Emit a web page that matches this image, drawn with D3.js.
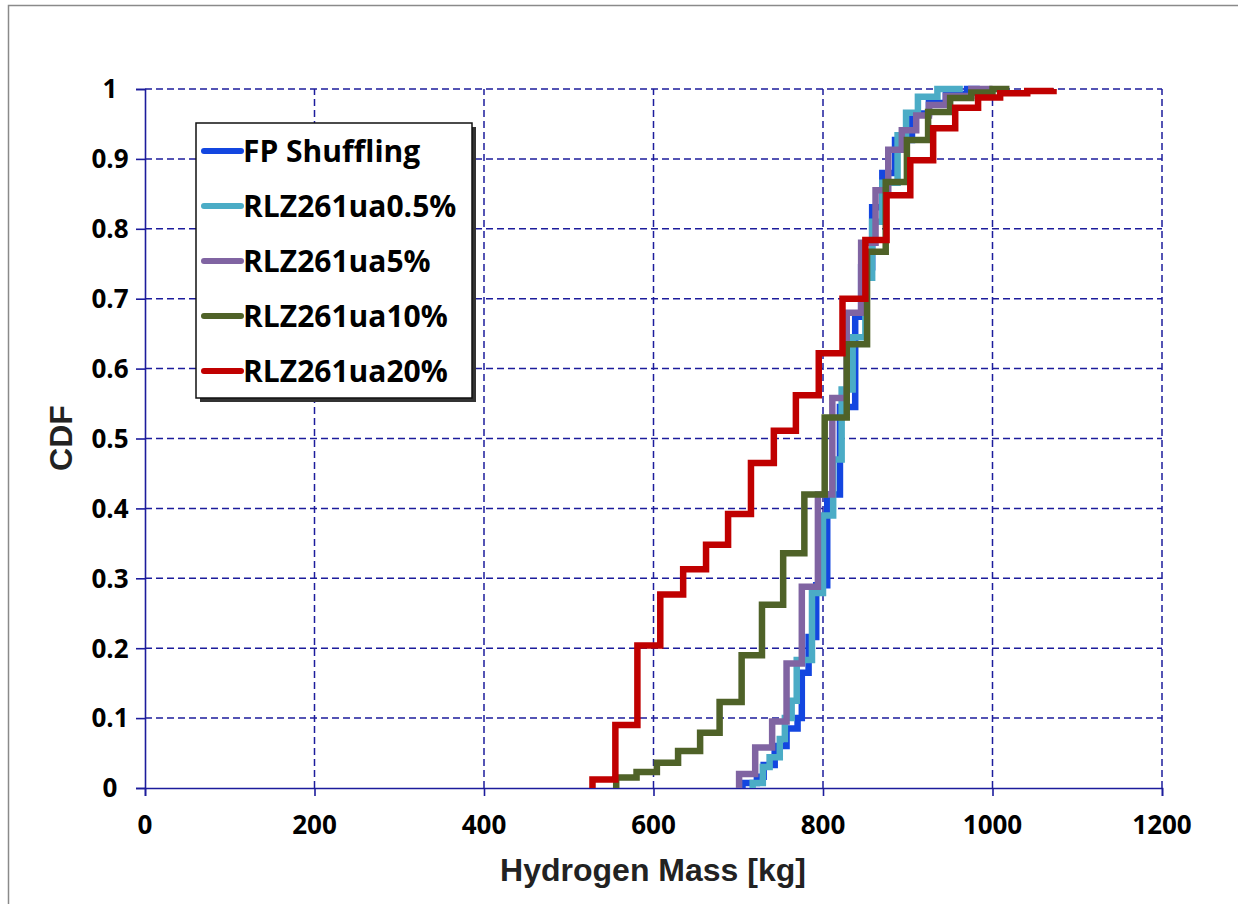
<!DOCTYPE html>
<html>
<head>
<meta charset="utf-8">
<script src="https://cdn.jsdelivr.net/npm/d3@7"></script>
<style>
  body { margin: 0; background: #fff; }
  svg { display: block; }
  .tick-label { font-family: 'Open Sans', sans-serif; font-weight: 700; font-size: 26px; fill: #000; }
  .axis-title { font-family: 'Liberation Sans', Arial, sans-serif; font-weight: 700; font-size: 32px; fill: #222; }
  .legend-text { font-family: 'Open Sans', sans-serif; font-weight: 700; font-size: 30px; fill: #000; }
</style>
</head>
<body>
<svg id="chart" width="1238" height="904"></svg>
<script>
// series names, colours
const seriesNames = ['FP Shuffling', 'RLZ261ua0.5%', 'RLZ261ua5%', 'RLZ261ua10%', 'RLZ261ua20%'];
const seriesColors = ['#1346e0', '#4bacc6', '#8064a2', '#4f6228', '#c00000'];

// step positions (hydrogen mass, kg) and CDF level after each step
const fpMass = [705, 722, 730, 743, 757, 770, 775, 783, 792, 805, 820, 838, 845, 858, 870, 885, 905, 925, 945, 970, 985];
const fpCdf  = [0.007, 0.016, 0.033, 0.06, 0.085, 0.1, 0.165, 0.216, 0.29, 0.42, 0.545, 0.674, 0.745, 0.831, 0.88, 0.927, 0.965, 0.98, 0.993, 1.0, 1.0];

const ua05Mass = [717, 729, 737, 749, 755, 763, 769, 787, 800, 812, 822, 835, 850, 858, 870, 888, 898, 912, 935, 965];
const ua05Cdf  = [0.007, 0.03, 0.044, 0.07, 0.1, 0.125, 0.183, 0.279, 0.39, 0.47, 0.57, 0.645, 0.73, 0.81, 0.866, 0.934, 0.966, 0.989, 1.0, 1.0];

const ua5Mass = [701, 720, 740, 757, 775, 794, 811, 828, 845, 862, 877, 893, 910, 925, 945, 975, 1000];
const ua5Cdf  = [0.02, 0.058, 0.095, 0.178, 0.288, 0.42, 0.558, 0.68, 0.78, 0.855, 0.913, 0.941, 0.962, 0.977, 0.99, 1.0, 1.0];

const ua10Mass = [556, 580, 604, 629, 655, 678, 704, 728, 753, 778, 802, 828, 852, 874, 899, 924, 950, 975, 1000, 1020];
const ua10Cdf  = [0.015, 0.023, 0.036, 0.053, 0.079, 0.123, 0.19, 0.262, 0.336, 0.42, 0.53, 0.635, 0.767, 0.867, 0.927, 0.967, 0.987, 0.995, 1.0, 1.0];

const ua20Mass = [528, 555, 581, 608, 635, 662, 688, 715, 742, 768, 795, 823, 850, 875, 903, 930, 956, 983, 1009, 1041, 1072];
const ua20Cdf  = [0.012, 0.09, 0.204, 0.277, 0.313, 0.348, 0.392, 0.465, 0.511, 0.562, 0.622, 0.70, 0.784, 0.848, 0.898, 0.944, 0.973, 0.988, 0.994, 0.997, 1.0];

// axis ticks
const xTicks = [0, 200, 400, 600, 800, 1000, 1200];
const yTicks = [0, 0.1, 0.2, 0.3, 0.4, 0.5, 0.6, 0.7, 0.8, 0.9, 1];

const allSeries = [
  { name: seriesNames[0], color: seriesColors[0], mass: fpMass, cdf: fpCdf },
  { name: seriesNames[1], color: seriesColors[1], mass: ua05Mass, cdf: ua05Cdf },
  { name: seriesNames[2], color: seriesColors[2], mass: ua5Mass, cdf: ua5Cdf },
  { name: seriesNames[3], color: seriesColors[3], mass: ua10Mass, cdf: ua10Cdf },
  { name: seriesNames[4], color: seriesColors[4], mass: ua20Mass, cdf: ua20Cdf }
];

const svg = d3.select('#chart');
const gridColor = '#1c1c9c';

// outer frame
svg.append('rect')
  .attr('x', 8.5).attr('y', 5.5)
  .attr('width', 1240).attr('height', 910)
  .attr('fill', 'none').attr('stroke', '#8a8a8a').attr('stroke-width', 1.5);

const x = d3.scaleLinear().domain([0, 1200]).range([145, 1162]);
const y = d3.scaleLinear().domain([0, 1]).range([788, 89]);

// grid
const grid = svg.append('g').attr('class', 'grid');
grid.selectAll('.hgrid')
  .data(yTicks.filter(d => d > 0))
  .join('line')
  .attr('x1', x(0)).attr('x2', x(1200))
  .attr('y1', d => y(d)).attr('y2', d => y(d))
  .attr('stroke', gridColor).attr('stroke-width', 1.5)
  .attr('stroke-dasharray', '7,4');
grid.selectAll('.vgrid')
  .data(xTicks.filter(d => d > 0))
  .join('line')
  .attr('x1', d => x(d)).attr('x2', d => x(d))
  .attr('y1', y(0)).attr('y2', y(1))
  .attr('stroke', gridColor).attr('stroke-width', 1.5)
  .attr('stroke-dasharray', '7,4');

// axes
const axisX = d3.axisBottom(x).tickValues(xTicks).tickSize(8).tickFormat('');
svg.append('g').attr('transform', `translate(0,${y(0)})`).call(axisX)
  .call(g => g.selectAll('path, line').attr('stroke', gridColor).attr('stroke-width', 1.6));
const axisY = d3.axisLeft(y).tickValues(yTicks).tickSize(9).tickFormat('');
svg.append('g').attr('transform', `translate(${x(0)},0)`).call(axisY)
  .call(g => g.selectAll('path, line').attr('stroke', gridColor).attr('stroke-width', 1.6));

svg.selectAll('.xlab')
  .data(xTicks)
  .join('text')
  .attr('class', 'tick-label')
  .attr('x', d => x(d)).attr('y', 834)
  .attr('text-anchor', 'middle')
  .text(d => d);

svg.selectAll('.ylab')
  .data(yTicks)
  .join('text')
  .attr('class', 'tick-label')
  .attr('x', 110).attr('y', d => y(d))
  .attr('dy', '0.36em')
  .attr('text-anchor', 'middle')
  .text(d => d);

svg.append('text').attr('class', 'axis-title')
  .attr('x', 653).attr('y', 881)
  .attr('text-anchor', 'middle')
  .text('Hydrogen Mass [kg]');

svg.append('text').attr('class', 'axis-title')
  .attr('transform', 'translate(72,438) rotate(-90)')
  .attr('text-anchor', 'middle')
  .text('CDF');

// step lines
const line = d3.line()
  .x(d => x(d[0]))
  .y(d => y(d[1]))
  .curve(d3.curveStepAfter);

svg.append('g').selectAll('path')
  .data(allSeries)
  .join('path')
  .attr('d', s => line([[s.mass[0], 0]].concat(s.mass.map((m, i) => [m, s.cdf[i]]))))
  .attr('fill', 'none')
  .attr('stroke', s => s.color)
  .attr('stroke-width', 6.5)
  .attr('stroke-linejoin', 'miter');

// legend
const legend = svg.append('g');
legend.append('rect')
  .attr('x', 200).attr('y', 127).attr('width', 276).attr('height', 275)
  .attr('fill', '#333');
legend.append('rect')
  .attr('x', 196).attr('y', 123).attr('width', 276).attr('height', 275)
  .attr('fill', '#fff').attr('stroke', '#111').attr('stroke-width', 1.5);

const rows = legend.selectAll('.row')
  .data(allSeries)
  .join('g')
  .attr('transform', (d, i) => `translate(0,${151 + i * 55})`);
rows.append('line')
  .attr('x1', 204).attr('x2', 241)
  .attr('stroke', d => d.color).attr('stroke-width', 6)
  .attr('stroke-linecap', 'round');
rows.append('text')
  .attr('class', 'legend-text')
  .attr('x', 243).attr('dy', '0.36em')
  .text(d => d.name);
</script>
</body>
</html>
